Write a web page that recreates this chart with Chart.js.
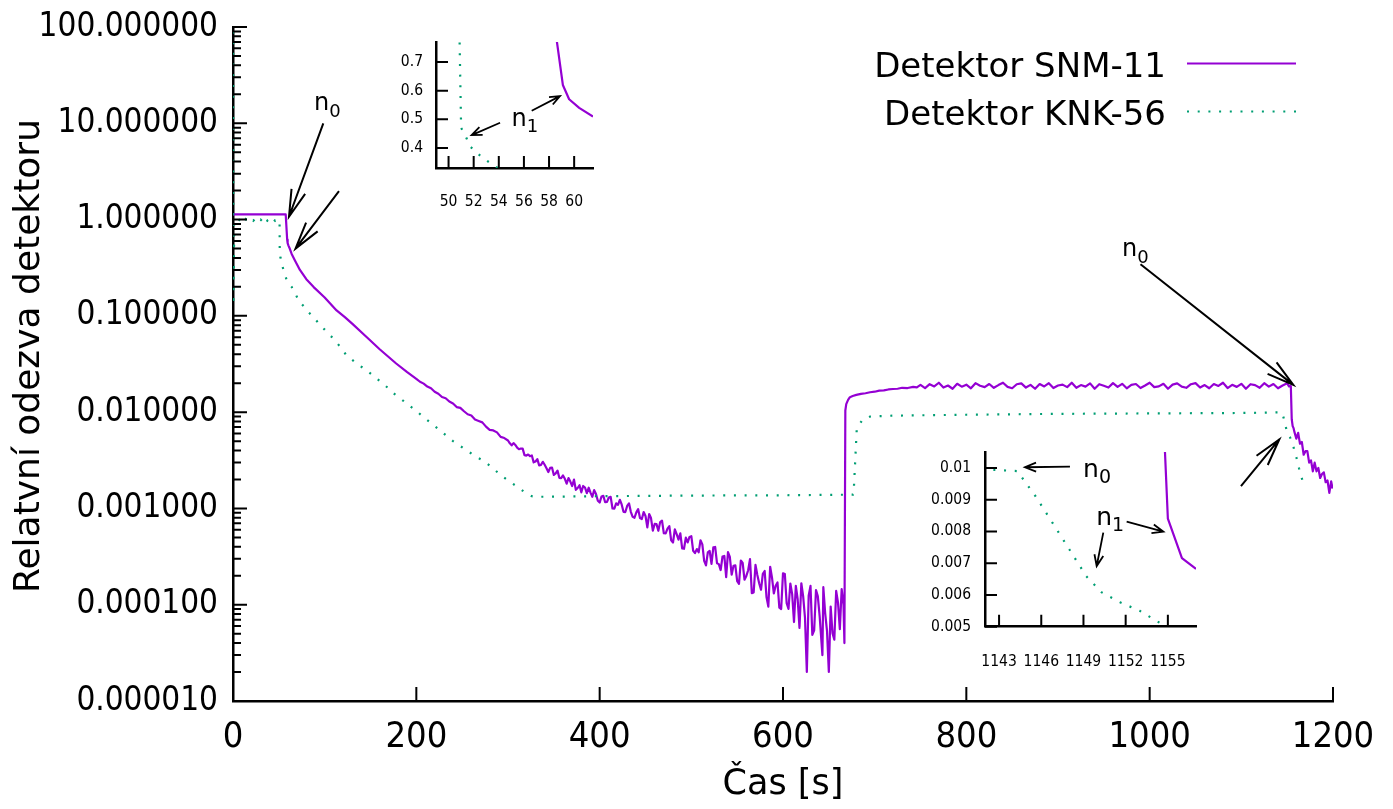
<!DOCTYPE html>
<html><head><meta charset="utf-8">
<script src="https://cdn.jsdelivr.net/npm/chart.js@4.4.1/dist/chart.umd.min.js"></script>
<style>
html,body{margin:0;padding:0;background:#fff;}
#wrap{position:relative;width:1393px;height:809px;overflow:hidden;background:#fff;}
canvas{position:absolute;}
</style></head><body>
<div id="wrap">
<canvas id="main" width="1393" height="809" style="left:0;top:0"></canvas>
<canvas id="inset1" width="240" height="200" style="left:380px;top:20px"></canvas>
<canvas id="inset2" width="300" height="240" style="left:900px;top:440px"></canvas>
</div>
<script>
// ---------------- DATA ----------------
const seriesNames = ['Detektor SNM-11', 'Detektor KNK-56'];
const xTitle = 'Čas [s]';
const yTitle = 'Relatvní odezva detektoru';

const snmTime = [
  0, 57.5, 59.1, 59.6, 60.4, 61.5, 64, 68, 73, 80, 88, 100, 113, 122, 130, 146, 160, 178, 190,
  200, 204, 208, 212, 216, 220, 224, 228, 232, 236, 240, 244, 248, 252, 256, 260, 264, 268, 272, 276, 280, 284, 288, 292, 296,
  300, 302, 304, 306, 308, 310, 312, 314, 316, 318,
  320, 322, 324, 326, 328, 330, 332, 334, 336, 338,
  340, 342, 344, 346, 348, 350, 352, 354, 356, 358,
  360, 362, 364, 366, 368, 370, 372, 374, 376, 378,
  380, 382, 384, 386, 388, 390, 392, 394, 396, 398,
  400, 402, 404, 406, 408, 410, 412, 414, 416, 418,
  420, 422, 424, 426, 428, 430, 432, 434, 436, 438,
  440, 442, 444, 446, 448, 450, 452, 454, 456, 458,
  460, 462, 464, 466, 468, 470, 472, 474, 476, 478,
  480, 482, 484, 486, 488, 490, 492, 494, 496, 498,
  500, 502, 504, 506, 508, 510, 512, 514, 516, 518,
  520, 522, 524, 526, 528, 530, 532, 534, 536, 538,
  540, 542, 544, 546, 548, 550, 552, 554, 556, 558,
  560, 562, 564, 566, 568, 570, 572, 574, 576, 578,
  580, 582, 584, 586, 588, 590, 592, 594, 596, 598,
  600, 602, 604, 606, 608, 610, 612, 614, 616, 618,
  620, 622, 624, 626, 628, 630, 632, 634, 636, 638,
  640, 643, 644, 646, 648, 650, 652, 654, 656, 658, 660, 662, 664, 666, 667,
  668, 669, 671, 673, 676, 680, 685, 690, 695, 700, 705, 710, 715, 720, 725, 730, 736, 742, 746,
  750, 755, 760, 765, 770, 775, 780, 785, 790, 795, 800, 805, 810, 815, 820, 825, 830, 835, 840, 845,
  850, 855, 860, 865, 870, 875, 880, 885, 890, 895, 900, 905, 910, 915, 920, 925, 930, 935, 940, 945, 950,
  955, 960, 965, 970, 975, 980, 985, 990, 995, 1000, 1005, 1010, 1015, 1020, 1025, 1030, 1035, 1040, 1045, 1050,
  1055, 1060, 1065, 1070, 1075, 1080, 1085, 1090, 1095, 1100, 1105, 1110, 1115, 1120, 1125, 1130, 1135, 1140, 1145, 1150,
  1152, 1154, 1155, 1156, 1157, 1158, 1160, 1162, 1164, 1166, 1168, 1170, 1172, 1174, 1176, 1178, 1180, 1182, 1184, 1186, 1188, 1190, 1192, 1194, 1196, 1198, 1199.5
];
const snmValue = [
  1.13, 1.13, 0.62, 0.57, 0.54, 0.51, 0.44, 0.37, 0.30, 0.24, 0.199, 0.155, 0.114, 0.097, 0.083, 0.060, 0.045, 0.032, 0.026,
  0.02219, 0.02068, 0.01977, 0.01846, 0.01769, 0.0163, 0.01552, 0.01435, 0.01394, 0.01289, 0.01232, 0.01129, 0.01107, 0.01022, 0.00951, 0.00922, 0.00839, 0.00811, 0.00783, 0.00707, 0.00655, 0.00646, 0.00616, 0.00553, 0.00538,
  5.08e-3, 4.74e-3, 4.52e-3, 4.77e-3, 4.56e-3, 4.28e-3, 4.12e-3, 4.19e-3, 4.18e-3, 3.58e-3,
  3.54e-3, 3.63e-3, 3.49e-3, 3.55e-3, 3.01e-3, 3.07e-3, 3.25e-3, 2.80e-3, 2.83e-3, 3.05e-3,
  2.84e-3, 2.62e-3, 2.39e-3, 2.64e-3, 2.66e-3, 2.23e-3, 2.31e-3, 2.47e-3, 2.08e-3, 2.06e-3,
  2.20e-3, 2.03e-3, 1.81e-3, 2.07e-3, 1.90e-3, 1.71e-3, 1.99e-3, 1.56e-3, 1.63e-3, 1.74e-3,
  1.47e-3, 1.71e-3, 1.65e-3, 1.44e-3, 1.64e-3, 1.46e-3, 1.32e-3, 1.55e-3, 1.41e-3, 1.20e-3,
  1.15e-3, 1.33e-3, 1.35e-3, 1.16e-3, 1.17e-3, 1.30e-3, 1.32e-3, 9.99e-4, 9.93e-4, 1.13e-3,
  1.09e-3, 1.23e-3, 1.10e-3, 9.22e-4, 9.17e-4, 1.06e-3, 1.13e-3, 9.23e-4, 8.18e-4, 8.00e-4,
  9.10e-4, 9.83e-4, 7.95e-4, 7.76e-4, 9.18e-4, 8.36e-4, 6.35e-4, 8.74e-4, 7.94e-4, 5.87e-4,
  6.90e-4, 6.87e-4, 5.86e-4, 7.21e-4, 7.46e-4, 5.52e-4, 5.50e-4, 6.18e-4, 6.55e-4, 4.66e-4,
  4.43e-4, 6.06e-4, 5.42e-4, 4.74e-4, 5.51e-4, 3.84e-4, 3.81e-4, 4.98e-4, 4.43e-4, 5.06e-4,
  5.15e-4, 3.63e-4, 3.44e-4, 3.78e-4, 3.50e-4, 4.67e-4, 4.23e-4, 2.85e-4, 2.56e-4, 3.49e-4,
  3.62e-4, 2.65e-4, 3.94e-4, 3.98e-4, 2.70e-4, 2.64e-4, 2.29e-4, 3.16e-4, 3.21e-4, 1.93e-4,
  3.52e-4, 3.13e-4, 2.05e-4, 2.53e-4, 2.56e-4, 1.76e-4, 1.65e-4, 2.88e-4, 2.72e-4, 1.82e-4,
  1.99e-4, 2.28e-4, 2.97e-4, 1.32e-4, 1.34e-4, 2.59e-4, 2.04e-4, 1.67e-4, 1.43e-4, 2.09e-4,
  2.24e-4, 1.20e-4, 9.55e-5, 2.48e-4, 1.91e-4, 1.31e-4, 1.57e-4, 1.70e-4, 9.31e-5, 9.03e-5,
  2.12e-4, 2.08e-4, 1.04e-4, 9.04e-5, 1.66e-4, 1.29e-4, 6.61e-5, 1.57e-4, 1.14e-4, 5.74e-5,
  1.67e-4, 1.22e-4, 7.28e-5, 2.0e-5, 1.24e-4, 1.57e-4, 4.86e-5, 5.42e-5, 1.42e-4, 1.22e-4,
  7.55e-5, 3.0e-5, 1.52e-4, 8.19e-5, 5.36e-5, 2.0e-5, 9.57e-5, 5.06e-5, 4.34e-5, 1.39e-4, 1.05e-4, 5.58e-5, 1.45e-4, 1.0e-4, 4.0e-5,
  0.0104, 0.0121, 0.0134, 0.0143, 0.0147, 0.0151, 0.0155, 0.0157, 0.0161, 0.0163, 0.0167, 0.0168, 0.0172, 0.0174, 0.0175, 0.0179, 0.0178, 0.0183, 0.0181,
  0.0192, 0.0178, 0.0195, 0.0185, 0.0202, 0.0180, 0.0189, 0.0175, 0.0197, 0.0184, 0.0193, 0.0177, 0.0200, 0.0188, 0.0182, 0.0196, 0.0179, 0.0191, 0.0202, 0.0183,
  0.0177, 0.0195, 0.0199, 0.0180, 0.0192, 0.0175, 0.0196, 0.0185, 0.0200, 0.0178, 0.0189, 0.0193, 0.0182, 0.0202, 0.0179, 0.0191, 0.0184, 0.0199, 0.0175, 0.0195, 0.0188,
  0.0180, 0.0200, 0.0183, 0.0197, 0.0177, 0.0192, 0.0196, 0.0178, 0.0189, 0.0202, 0.0182, 0.0185, 0.0197, 0.0175, 0.0193, 0.0199, 0.0184, 0.0179, 0.0195, 0.0200,
  0.0180, 0.0191, 0.0177, 0.0196, 0.0187, 0.0202, 0.0178, 0.0192, 0.0183, 0.0197, 0.0175, 0.0195, 0.0191, 0.0179, 0.0200, 0.0184, 0.0196, 0.0177, 0.0189, 0.0199,
  0.0185, 0.0186, 0.0084, 0.00716, 0.00682, 0.0062, 0.0053, 0.0061, 0.0047, 0.0049, 0.00361, 0.00393, 0.00394, 0.00299, 0.00316, 0.00243, 0.00299, 0.00243, 0.00263, 0.00207, 0.00228, 0.00237, 0.00187, 0.00195, 0.00145, 0.00191, 0.00161
];

const knkTime = [
  0, 0.3, 1.5, 4, 6, 8, 10, 12, 14, 16, 18, 20, 22, 24, 26, 28, 30, 32, 34, 36, 38, 40, 42, 44, 46, 48, 50, 50.8,
  51.0, 51.4, 51.7, 52.3, 53.0, 53.7, 55, 56, 58, 60, 62, 64, 66, 68, 70, 73, 78, 82, 88, 95, 100, 108, 116, 124, 135, 146, 155, 164, 176, 190,
  200, 208, 216, 226, 240, 255, 264, 273, 282, 291, 300, 311, 320, 326, 331, 400, 500, 600, 676.5, 677, 680.5, 687, 695, 720, 800, 900, 1000, 1100, 1142, 1144.3,
  1145.6, 1146.8, 1148.0, 1149.2, 1150.3, 1151.6, 1153.0, 1154.5, 1157, 1160, 1163, 1167
];
const knkValue = [
  150, 0.13, 0.98, 0.95, 1.01, 0.97, 1.0, 0.93, 1.01, 0.98, 0.95, 1.0, 0.97, 1.01, 0.94, 0.99, 1.0, 0.96, 1.01, 0.93, 0.99, 1.0, 0.95, 1.01, 0.97, 0.99, 1.0, 0.97,
  0.47, 0.437, 0.406, 0.381, 0.357, 0.336, 0.30, 0.28, 0.245, 0.23, 0.21, 0.20, 0.18, 0.172, 0.155, 0.139, 0.123, 0.11, 0.097, 0.08, 0.072, 0.060, 0.049, 0.0387, 0.032, 0.027, 0.023, 0.0197, 0.0155, 0.0122,
  0.0103, 0.00885, 0.0077, 0.00645, 0.0050, 0.0040, 0.0035, 0.00313, 0.0027, 0.00226, 0.00195, 0.00166, 0.00143, 0.00134, 0.00132, 0.00134, 0.00136, 0.00137, 0.00139, 0.0014, 0.0068, 0.0084, 0.0090, 0.0092, 0.0094, 0.0096, 0.0097, 0.0098, 0.00995, 0.0099,
  0.0091, 0.00827, 0.00743, 0.00659, 0.00608, 0.00577, 0.0055, 0.0051, 0.0043, 0.0034, 0.0026, 0.0019
];

const mainXTicks = [0, 200, 400, 600, 800, 1000, 1200];
const mainYTicks = [1e-5, 1e-4, 1e-3, 0.01, 0.1, 1, 10, 100];
const inset1XTicks = [50, 52, 54, 56, 58, 60];
const inset1YTicks = [0.4, 0.5, 0.6, 0.7];
const inset2XTicks = [1143, 1146, 1149, 1152, 1155];
const inset2YTicks = [0.005, 0.006, 0.007, 0.008, 0.009, 0.01];

// annotations (data coordinates of each plot)
const mainArrows = [
  {from: [98.5, 9.96], to: [61.1, 1.07]},
  {from: [115.6, 1.97], to: [68.2, 0.50]},
  {from: [990, 0.343], to: [1156.7, 0.0192]},
  {from: [1099.6, 0.0017], to: [1141.4, 0.0052]}
];
const mainLabels = [
  {at: [88.4, 13.7], main: 'n', sub: '0'},
  {at: [969.8, 0.42], main: 'n', sub: '0'}
];
const inset1Arrows = [
  {from: [54.1, 0.488], to: [51.84, 0.445]},
  {from: [56.62, 0.530], to: [58.87, 0.581]}
];
const inset1Labels = [{at: [55.01, 0.4766], main: 'n', sub: '1'}];
const inset2Arrows = [
  {from: [1148.04, 0.01004], to: [1144.84, 0.01002]},
  {from: [1150.41, 0.00796], to: [1149.94, 0.00691]},
  {from: [1152.07, 0.00831], to: [1154.68, 0.00799]}
];
const inset2Labels = [
  {at: [1148.97, 0.00972], main: 'n', sub: '0'},
  {at: [1149.9, 0.0082], main: 'n', sub: '1'}
];

// ---------------- STYLE ----------------
const SANS = "'DejaVu Sans', sans-serif";
const COND = "'DejaVu Sans Condensed', 'DejaVu Sans', sans-serif";
const PURPLE = '#9400d3';
const GREEN = '#009e73';
const DOTS = [2, 8.7];
Chart.defaults.color = '#000';

function pts(ts, vs) { return ts.map((t, i) => ({x: t, y: vs[i]})); }
function makeDatasets() {
  return [
    {label: seriesNames[0], data: pts(snmTime, snmValue), borderColor: PURPLE, borderWidth: 2.2,
     pointRadius: 0, tension: 0, borderJoinStyle: 'round', order: 1},
    {label: seriesNames[1], data: pts(knkTime, knkValue), borderColor: GREEN, borderWidth: 2.2,
     borderDash: DOTS, borderCapStyle: 'butt', pointRadius: 0, tension: 0, order: 0}
  ];
}

function drawArrow(ctx, x1, y1, x2, y2, head, ang) {
  const a = Math.atan2(y1 - y2, x1 - x2);
  ctx.beginPath();
  ctx.moveTo(x1, y1); ctx.lineTo(x2, y2);
  ctx.moveTo(x2 + head * Math.cos(a + ang), y2 + head * Math.sin(a + ang));
  ctx.lineTo(x2, y2);
  ctx.lineTo(x2 + head * Math.cos(a - ang), y2 + head * Math.sin(a - ang));
  ctx.stroke();
}

function decor(conf) {
  return {
    id: 'decor_' + conf.name,
    afterDraw(chart) {
      const ctx = chart.ctx, a = chart.chartArea, xs = chart.scales.x, ys = chart.scales.y;
      ctx.save();
      ctx.strokeStyle = '#000';
      ctx.lineWidth = conf.tickWidth;
      ctx.lineCap = 'butt';
      ctx.beginPath();
      xs.ticks.forEach(t => {
        const p = xs.getPixelForValue(t.value);
        ctx.moveTo(p, a.bottom); ctx.lineTo(p, a.bottom - conf.xTickLen(t.value));
      });
      ys.ticks.forEach(t => {
        const p = ys.getPixelForValue(t.value);
        ctx.moveTo(a.left, p); ctx.lineTo(a.left + conf.yTickLen(t.value), p);
      });
      ctx.stroke();
      ctx.lineWidth = conf.arrowWidth;
      ctx.lineJoin = 'miter';
      conf.arrows.forEach(ar => {
        drawArrow(ctx, xs.getPixelForValue(ar.from[0]), ys.getPixelForValue(ar.from[1]),
          xs.getPixelForValue(ar.to[0]), ys.getPixelForValue(ar.to[1]), conf.head, conf.headAngle);
      });
      ctx.fillStyle = '#000';
      ctx.textAlign = 'left';
      ctx.textBaseline = 'alphabetic';
      conf.labels.forEach(l => {
        const x = xs.getPixelForValue(l.at[0]), y = ys.getPixelForValue(l.at[1]);
        ctx.font = conf.labelSize + 'px ' + SANS;
        ctx.fillText(l.main, x, y);
        const w = ctx.measureText(l.main).width;
        ctx.font = conf.subSize + 'px ' + SANS;
        ctx.fillText(l.sub, x + w, y + conf.subShift);
      });
      if (conf.extra) conf.extra(chart, ctx);
      ctx.restore();
    }
  };
}

function drawLegendAndTitle(chart, ctx) {
  const ds = chart.data.datasets;
  ctx.save();
  ctx.translate(30, 356);
  ctx.rotate(-Math.PI / 2);
  ctx.font = '36px ' + SANS;
  ctx.textAlign = 'center';
  ctx.textBaseline = 'middle';
  ctx.fillStyle = '#000';
  ctx.fillText(yTitle, 0, 0);
  ctx.restore();
  ctx.font = '34px ' + SANS;
  ctx.textAlign = 'right';
  ctx.textBaseline = 'alphabetic';
  ctx.fillStyle = '#000';
  ctx.fillText(ds[0].label, 1166, 77);
  ctx.fillText(ds[1].label, 1166, 125);
  ctx.lineWidth = 2.2;
  ctx.strokeStyle = ds[0].borderColor;
  ctx.setLineDash([]);
  ctx.beginPath(); ctx.moveTo(1187, 63.5); ctx.lineTo(1296, 63.5); ctx.stroke();
  ctx.strokeStyle = ds[1].borderColor;
  ctx.setLineDash(DOTS);
  ctx.beginPath(); ctx.moveTo(1187, 111.5); ctx.lineTo(1296, 111.5); ctx.stroke();
  ctx.setLineDash([]);
}

function baseOptions(o) {
  return {
    responsive: false, animation: false, devicePixelRatio: 1, events: [],
    layout: {padding: o.padding},
    plugins: {legend: {display: false}, tooltip: {enabled: false}, title: {display: false}},
    scales: {
      x: {
        type: 'linear', min: o.xmin, max: o.xmax,
        afterFit(s) { s.height = o.xHeight; s.paddingLeft = 0; s.paddingRight = 0; },
        afterBuildTicks(s) { s.ticks = o.xTicks.map(v => ({value: v})); },
        grid: {display: false, drawTicks: false},
        border: {display: true, color: '#000', width: 2.5},
        ticks: {autoSkip: false, maxRotation: 0, minRotation: 0, padding: o.xPad, color: '#000',
                font: {family: COND, size: o.xFont}, callback: o.xFmt},
        title: o.xTitle || {display: false}
      },
      y: {
        type: o.yType, min: o.ymin, max: o.ymax,
        afterFit(s) { s.width = o.yWidth; s.paddingTop = 0; s.paddingBottom = 0; },
        afterBuildTicks(s) { s.ticks = o.yTicks.map(v => ({value: v})); },
        grid: {display: false, drawTicks: false},
        border: {display: true, color: '#000', width: 2.5},
        ticks: {autoSkip: false, padding: o.yPad, color: '#000',
                font: {family: COND, size: o.yFont}, callback: o.yFmt},
        title: {display: false}
      }
    }
  };
}

const mainYAll = [];
mainYTicks.forEach((d, i) => {
  mainYAll.push(d);
  if (i < mainYTicks.length - 1) for (let k = 2; k <= 9; k++) mainYAll.push(+(d * k).toPrecision(3));
});

new Chart(document.getElementById('main'), {
  type: 'line',
  data: {datasets: makeDatasets()},
  options: baseOptions({
    padding: {left: 0, top: 27, right: 60, bottom: 0},
    xmin: 0, xmax: 1200, xHeight: 108, xTicks: mainXTicks, xPad: 15, xFont: 36,
    xFmt: v => String(v),
    xTitle: {display: true, text: xTitle, color: '#000', font: {family: SANS, size: 35}, padding: {top: 0, bottom: 3}},
    yType: 'logarithmic', ymin: 1e-5, ymax: 100, yWidth: 233, yTicks: mainYAll, yPad: 15, yFont: 33,
    yFmt: v => mainYTicks.includes(v) ? v.toFixed(6) : ''
  }),
  plugins: [decor({
    name: 'main', tickWidth: 2,
    xTickLen: v => 14,
    yTickLen: v => mainYTicks.includes(v) ? 14 : 8,
    arrows: mainArrows, labels: mainLabels, arrowWidth: 2, head: 28, headAngle: 15 * Math.PI / 180,
    labelSize: 24, subSize: 18, subShift: 7,
    extra: drawLegendAndTitle
  })]
});

new Chart(document.getElementById('inset1'), {
  type: 'line',
  data: {datasets: makeDatasets()},
  options: baseOptions({
    padding: {left: 0, top: 22, right: 27, bottom: 0},
    xmin: 49, xmax: 61.5, xHeight: 52, xTicks: inset1XTicks, xPad: 25, xFont: 15.5,
    xFmt: v => String(v),
    yType: 'linear', ymin: 0.33, ymax: 0.77, yWidth: 56, yTicks: inset1YTicks, yPad: 13, yFont: 15.5,
    yFmt: v => String(v)
  }),
  plugins: [decor({
    name: 'in1', tickWidth: 2,
    xTickLen: v => 12, yTickLen: v => 12,
    arrows: inset1Arrows, labels: inset1Labels, arrowWidth: 1.8, head: 11, headAngle: 22 * Math.PI / 180,
    labelSize: 24, subSize: 18, subShift: 6
  })]
});

new Chart(document.getElementById('inset2'), {
  type: 'line',
  data: {datasets: makeDatasets()},
  options: baseOptions({
    padding: {left: 0, top: 12, right: 4, bottom: 0},
    xmin: 1142, xmax: 1157, xHeight: 53.3, xTicks: inset2XTicks, xPad: 26, xFont: 15.5,
    xFmt: v => String(v),
    yType: 'linear', ymin: 0.005, ymax: 0.0105, yWidth: 85, yTicks: inset2YTicks, yPad: 14, yFont: 15.5,
    yFmt: v => String(v)
  }),
  plugins: [decor({
    name: 'in2', tickWidth: 2,
    xTickLen: v => 12, yTickLen: v => 12,
    arrows: inset2Arrows, labels: inset2Labels, arrowWidth: 1.8, head: 12, headAngle: 22 * Math.PI / 180,
    labelSize: 25, subSize: 19, subShift: 6
  })]
});
</script>
</body></html>
